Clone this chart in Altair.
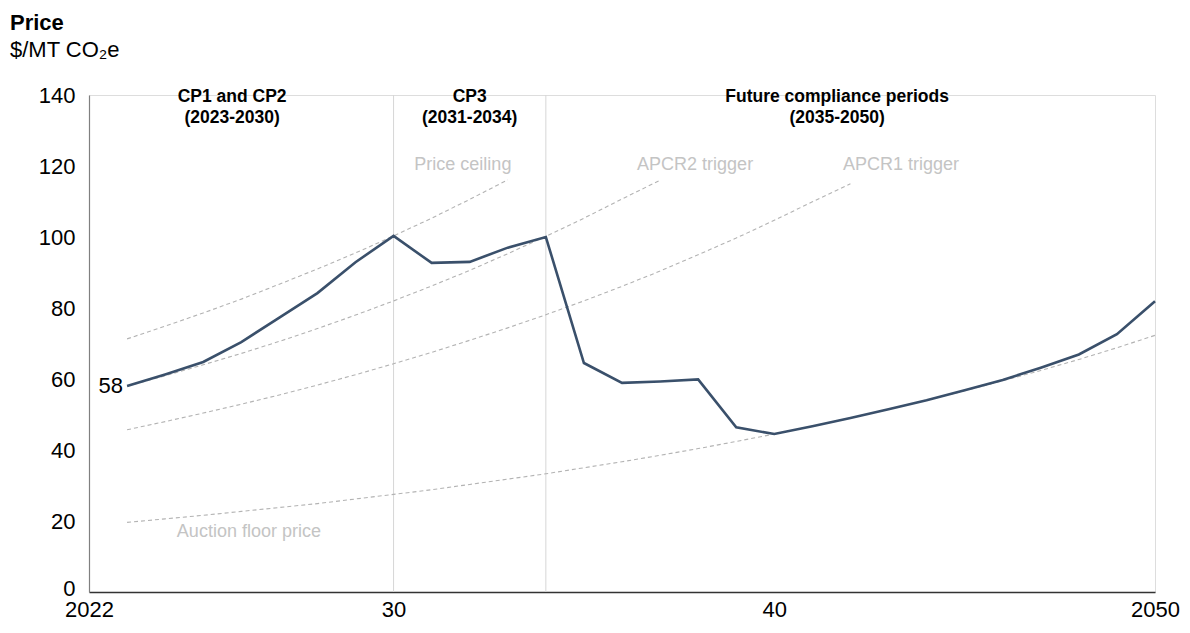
import altair as alt
import pandas as pd

FONT = "Liberation Sans"

# ---- data ----
price_years = list(range(2023, 2051))
price_values = [58.0, 61.3, 64.8, 70.4, 77.3, 84.2, 92.9, 100.3, 92.7, 93.0,
                97.0, 100.0, 64.5, 58.9, 59.3, 59.9, 46.4, 44.5, 46.7, 49.0,
                51.5, 54.0, 56.8, 59.7, 63.2, 66.9, 72.6, 81.9]

ceiling_years = list(range(2023, 2034))
ceiling_values = [71.3, 74.9, 78.6, 82.5, 86.7, 91.0, 95.5, 100.3, 105.3, 110.6, 116.1]

apcr2_years = list(range(2023, 2038))
apcr2_values = [58.0, 60.9, 64.0, 67.2, 70.6, 74.2, 78.0, 82.0, 86.2, 90.6,
                95.3, 100.2, 105.3, 110.7, 116.0]

apcr1_years = list(range(2023, 2043))
apcr1_values = [45.7, 48.0, 50.4, 52.9, 55.5, 58.3, 61.2, 64.3, 67.5, 70.9,
                74.4, 78.1, 82.0, 86.1, 90.4, 95.0, 99.7, 104.7, 109.9, 115.0]

floor_years = list(range(2023, 2051))
floor_values = [19.6, 20.6, 21.6, 22.7, 23.8, 24.9, 26.2, 27.5, 28.8, 30.3,
                31.8, 33.3, 35.0, 36.7, 38.5, 40.4, 42.4, 44.5, 46.7, 49.0,
                51.5, 54.0, 56.7, 59.5, 62.4, 65.5, 68.8, 72.3]

period_boundaries = [2030, 2034]

period_labels = ["CP1 and CP2", "(2023-2030)", "CP3", "(2031-2034)",
                 "Future compliance periods", "(2035-2050)"]
period_label_years = [2025.76, 2025.76, 2032.0, 2032.0, 2041.65, 2041.65]
period_label_values = [138.0, 132.1, 138.0, 132.1, 138.0, 132.1]

series_labels = ["Price ceiling", "APCR2 trigger", "APCR1 trigger", "Auction floor price"]
series_label_years = [2031.82, 2037.92, 2043.33, 2026.2]
series_label_values = [118.8, 118.8, 118.8, 15.4]

x_ticks = [2022, 2030, 2040, 2050]
y_ticks = [0, 20, 40, 60, 80, 100, 120, 140]

# ---- tables ----
price_df = pd.DataFrame({"year": price_years, "value": price_values})
dash_df = pd.concat([
    pd.DataFrame({"year": ceiling_years, "value": ceiling_values, "series": "Price ceiling"}),
    pd.DataFrame({"year": apcr2_years, "value": apcr2_values, "series": "APCR2 trigger"}),
    pd.DataFrame({"year": apcr1_years, "value": apcr1_values, "series": "APCR1 trigger"}),
    pd.DataFrame({"year": floor_years, "value": floor_values, "series": "Auction floor price"}),
], ignore_index=True)
rule_df = pd.DataFrame({"year": period_boundaries, "value": [0] * 2, "top": [140] * 2})
period_df = pd.DataFrame({"year": period_label_years, "value": period_label_values, "text": period_labels})
series_df = pd.DataFrame({"year": series_label_years, "value": series_label_values, "text": series_labels})
start_df = pd.DataFrame({"year": [price_years[0]], "value": [price_values[0]],
                         "text": [str(int(price_values[0]))]})

x_enc = alt.X("year:Q",
              scale=alt.Scale(domain=[2022, 2050], nice=False, zero=False),
              axis=alt.Axis(values=x_ticks, format="d", title=None, grid=False, ticks=False,
                            labelExpr="datum.value == 2030 ? '30' : datum.value == 2040 ? '40' : datum.label",
                            domainColor="#333333", domainWidth=1.5, labelFontSize=22,
                            labelColor="#000000", labelPadding=7, labelFont=FONT,
                            labelFlush=False))
y_enc = alt.Y("value:Q",
              scale=alt.Scale(domain=[0, 140], nice=False, zero=True),
              axis=alt.Axis(values=y_ticks, title=None, grid=False, ticks=False,
                            domainColor="#808080", domainWidth=1.2, labelFontSize=22,
                            labelColor="#000000", labelPadding=14, labelFont=FONT,
                            labelOffset={"condition": {"test": "datum.value == 0", "value": -4},
                                         "value": 0}))

rules = alt.Chart(rule_df).mark_rule(color="#d6d6d6", strokeWidth=1).encode(
    x=x_enc, y=y_enc, y2="top:Q")

dashes = alt.Chart(dash_df).mark_line(color="#b3b3b3", strokeWidth=1.1, strokeDash=[4, 3]).encode(
    x="year:Q", y="value:Q", detail="series:N")

price_line = alt.Chart(price_df).mark_line(color="#3a506b", strokeWidth=2.6).encode(
    x="year:Q", y="value:Q")

period_text = alt.Chart(period_df).mark_text(
    font=FONT, fontSize=17.5, fontWeight="bold", color="#000000",
    align="center", baseline="alphabetic").encode(x="year:Q", y="value:Q", text="text:N")

series_text = alt.Chart(series_df).mark_text(
    font=FONT, fontSize=18, color="#c4c4c4",
    align="center", baseline="alphabetic").encode(x="year:Q", y="value:Q", text="text:N")

start_text = alt.Chart(start_df).mark_text(
    font=FONT, fontSize=22, color="#000000", align="right", baseline="middle", dx=-4).encode(
    x="year:Q", y="value:Q", text="text:N")

title_text = alt.Chart(pd.DataFrame({"t": ["Price"]})).mark_text(
    font=FONT, fontSize=22, fontWeight="bold", color="#000000",
    align="left", baseline="alphabetic").encode(
    text="t:N", x=alt.value(-79), y=alt.value(-65))

unit_text = alt.Chart(pd.DataFrame({"t": ["$/MT CO₂e"]})).mark_text(
    font=FONT, fontSize=22, color="#000000",
    align="left", baseline="alphabetic").encode(
    text="t:N", x=alt.value(-79), y=alt.value(-38))

chart = alt.layer(rules, dashes, price_line, period_text, series_text, start_text,
                  title_text, unit_text).properties(
    width=1066, height=497,
    autosize=alt.AutoSizeParams(type="none"),
    padding={"left": 81, "top": 87, "right": 27, "bottom": 34},
).configure_view(stroke=None).configure(background="#ffffff")

chart.save("out.html", embed_options={"renderer": "svg", "actions": False})
